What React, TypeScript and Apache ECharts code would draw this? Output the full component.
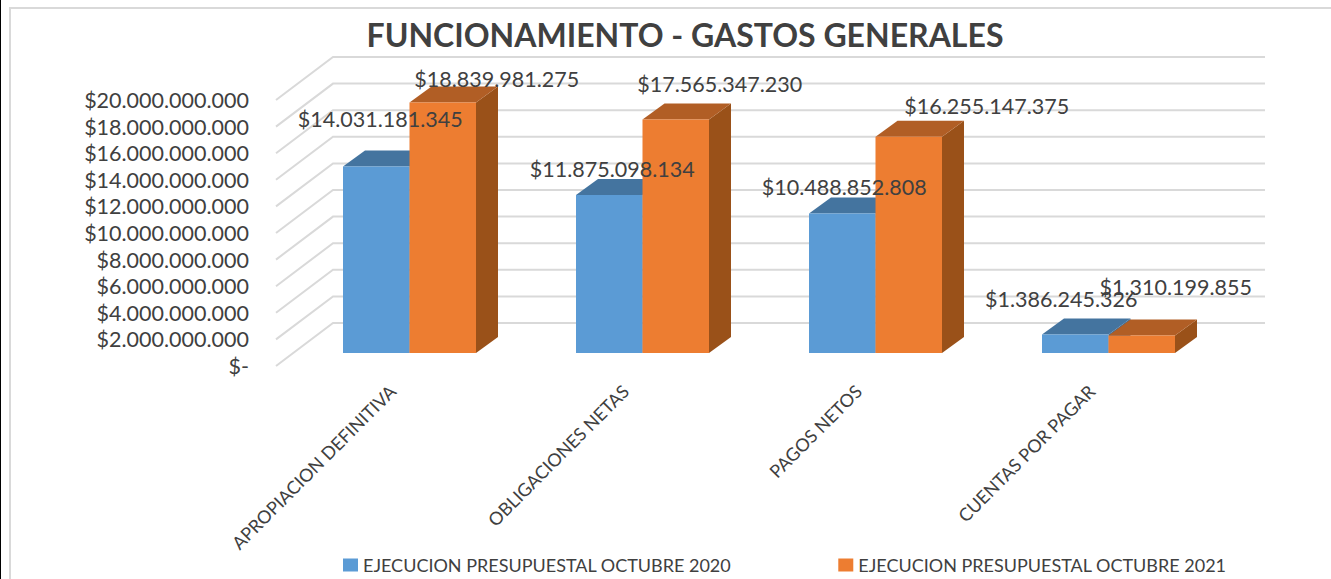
import React, { useEffect, useRef } from "react";
import * as echarts from "echarts";

const categories = ["APROPIACION DEFINITIVA", "OBLIGACIONES NETAS", "PAGOS NETOS", "CUENTAS POR PAGAR"];
const values2020 = [14031181345, 11875098134, 10488852808, 1386245326];
const values2021 = [18839981275, 17565347230, 16255147375, 1310199855];
const yTicks = [0, 2e9, 4e9, 6e9, 8e9, 10e9, 12e9, 14e9, 16e9, 18e9, 20e9];
const seriesNames = ["EJECUCION PRESUPUESTAL OCTUBRE 2020", "EJECUCION PRESUPUESTAL OCTUBRE 2021"];
const labelShift2020 = [[4, -47], [3, -26], [2, -26], [-14, -36]];
const labelShift2021 = [[54, -23], [44, -35], [78, -31], [34, -49]];

const FONT = "Lato, 'Open Sans', sans-serif";
const TEXT = "#404040";
const money = (v: number) => "$" + Math.round(v).toString().replace(/\B(?=(\d{3})+(?!\d))/g, ".");

function barSeries(name: string, values: number[], side: number, front: string, top: string, right: string) {
  return {
    type: "custom",
    name,
    coordinateSystem: "cartesian2d",
    itemStyle: { color: front },
    z: 3 + side,
    encode: { x: 0, y: 1 },
    data: values.map((v, i) => [i, v]),
    renderItem: (_p: any, api: any) => {
      const [cx, yTop] = api.coord([api.value(0), api.value(1)]);
      const [, yBase] = api.coord([api.value(0), 0]);
      const w = 66.5;
      const offX = 17, offY = -13, dX = 22, dY = -16;
      const x0 = cx + offX + (side === 0 ? -w : 0);
      const x1 = x0 + w;
      const t = yTop + offY, b = yBase + offY;
      const poly = (points: number[][], fill: string) => ({ type: "polygon", shape: { points }, style: { fill } });
      return {
        type: "group",
        children: [
          poly([[x1, t], [x1 + dX, t + dY], [x1 + dX, b + dY], [x1, b]], right),
          poly([[x0, t], [x0 + dX, t + dY], [x1 + dX, t + dY], [x1, t]], top),
          { type: "rect", shape: { x: x0, y: t, width: w, height: b - t }, style: { fill: front } },
        ],
      };
    },
  };
}

function labelSeries(values: number[], shifts: number[][], side: number) {
  return {
    type: "custom",
    coordinateSystem: "cartesian2d",
    z: 10,
    silent: true,
    encode: { x: 0, y: 1 },
    data: values.map((v, i) => [i, v, shifts[i][0], shifts[i][1]]),
    renderItem: (_p: any, api: any) => {
      const [cx, yTop] = api.coord([api.value(0), api.value(1)]);
      const barCx = cx + 17 + (side === 0 ? -33.25 : 33.25);
      return {
        type: "text",
        x: barCx + api.value(2),
        y: yTop - 13 + api.value(3),
        style: { text: money(api.value(1)), font: `21.5px ${FONT}`, fill: TEXT, align: "center", verticalAlign: "middle" },
      };
    },
  };
}

export default function App() {
  const ref = useRef<HTMLDivElement>(null);
  useEffect(() => {
    const chart = echarts.init(ref.current!, undefined, { renderer: "svg" });
    chart.setOption({
      animation: false,
      backgroundColor: "#fff",
      title: {
        text: "FUNCIONAMIENTO - GASTOS GENERALES",
        left: 680,
        top: 13,
        textAlign: "center",
        textStyle: { fontFamily: FONT, fontSize: 32, fontWeight: "bold", color: TEXT },
      },
      legend: {
        left: 338,
        top: 551,
        itemWidth: 15,
        itemHeight: 13,
        itemGap: 107,
        icon: "rect",
        data: seriesNames,
        textStyle: { fontFamily: FONT, fontSize: 18, color: TEXT },
      },
      grid: { left: 276, right: 123, top: 100, bottom: 213 },
      xAxis: {
        type: "category",
        data: categories,
        axisLine: { show: false },
        axisTick: { show: false },
        axisLabel: { rotate: 45, margin: 22, interval: 0, fontFamily: FONT, fontSize: 18, color: TEXT },
      },
      yAxis: {
        type: "value",
        min: 0,
        max: 20e9,
        interval: 2e9,
        axisLine: { show: false },
        axisTick: { show: false },
        splitLine: { show: false },
        axisLabel: {
          margin: 27,
          fontFamily: FONT,
          fontSize: 21.5,
          color: TEXT,
          formatter: (v: number) => (v === 0 ? "$-" : money(v)),
        },
      },
      graphic: [
        { type: "rect", shape: { x: 10, y: 8, width: 1340, height: 600 }, style: { fill: "none", stroke: "#d9d9d9", lineWidth: 2 }, z: 0 },
        { type: "rect", shape: { x: 0, y: 0, width: 1, height: 579 }, style: { fill: "#000" }, z: 0 },
      ],
      series: [
        {
          type: "custom",
          coordinateSystem: "cartesian2d",
          silent: true,
          z: 1,
          encode: { y: 0 },
          data: yTicks.map((v) => [v]),
          renderItem: (p: any, api: any) => {
            const y = api.coord([0, api.value(0)])[1];
            const left = p.coordSys.x;
            return {
              type: "polyline",
              shape: { points: [[left, y], [left + 57, y - 43], [left + 989, y - 43]] },
              style: { fill: "none", stroke: "#d9d9d9", lineWidth: 2 },
            };
          },
        },
        barSeries(seriesNames[0], values2020, 0, "#5B9BD5", "#44749F", "#3E6C95"),
        barSeries(seriesNames[1], values2021, 1, "#ED7D31", "#B15E25", "#9A5119"),
        labelSeries(values2020, labelShift2020, 0),
        labelSeries(values2021, labelShift2021, 1),
      ],
    });
    return () => chart.dispose();
  }, []);
  return <div ref={ref} style={{ position: "fixed", left: 0, top: 0, width: 1331, height: 579 }} />;
}
